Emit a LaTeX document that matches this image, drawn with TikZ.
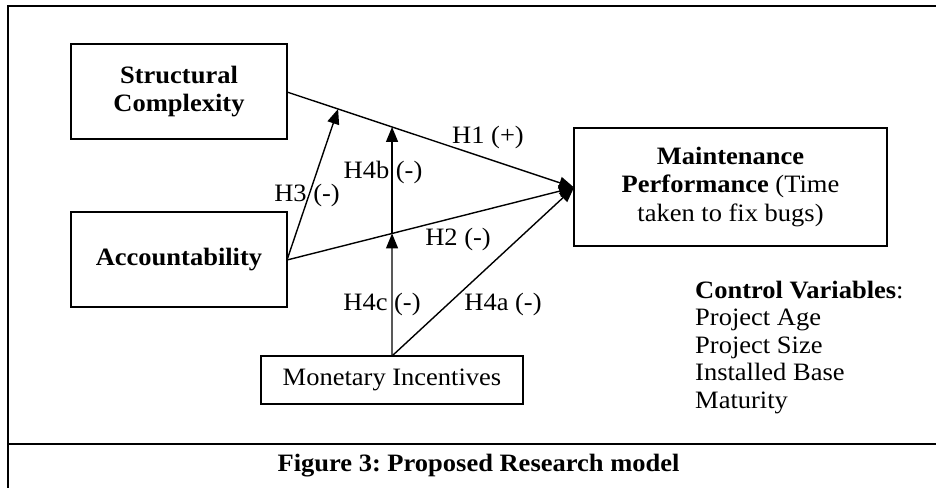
\documentclass[tikz,border=0pt]{standalone}
\usepackage{fontspec}
\setmainfont{Liberation Serif}[FakeStretch=1.06]
\usetikzlibrary{arrows.meta,calc}
\frenchspacing
\begin{document}
\begin{tikzpicture}[x=1pt,y=-1pt,
  every node/.style={font=\fontsize{25}{28.5}\selectfont},
  box/.style={draw,line width=1.6pt,inner sep=0pt,align=center},
  conn/.style={line width=1.4pt},
  arr/.style={conn,-{Triangle[length=15pt,width=12pt]}},
  lbl/.style={inner sep=0pt,anchor=base}]
\useasboundingbox (0,0) rectangle (936,488);
% frame
\draw[line width=2pt] (936,5.5) -- (8,5.5) -- (8,488);
\draw[line width=2pt] (8,444) -- (936,444);
% boxes
\node[box,minimum width=216,minimum height=95] (sc) at (179,91.5) {\textbf{Structural}\\\textbf{Complexity}};
\node[box,minimum width=216,minimum height=95] (acc) at (179,259.5) {\textbf{Accountability}};
\node[box,minimum width=313,minimum height=118] (mp) at (730.5,187) {\textbf{Maintenance}\\\textbf{Performance} (Time\\taken to fix bugs)};
\node[box,minimum width=262,minimum height=48] (mi) at (392,380) {Monetary Incentives};
% connectors
\coordinate (scR) at (287,92);
\coordinate (accR) at (287,260);
\coordinate (mpL) at (574,187.5);
\coordinate (mitop) at (392,356);
\draw[arr] (scR) -- (mpL);
\draw[arr] (accR) -- (mpL);
\draw[arr] (mitop) -- (mpL);
\coordinate (h3end) at ($(scR)!0.178!(mpL)$);
\coordinate (h1pt) at ($(scR)!0.366!(mpL)$);
\coordinate (h2pt) at ($(accR)!0.366!(mpL)$);
\draw[arr] (accR) -- (h3end);
\draw[arr] (h2pt) -- (h1pt);
\draw[arr] (mitop) -- (h2pt);
% labels
\node[lbl] (l1) at (488,143) {H1 (+)};
\node[lbl] (l2) at (458,245) {H2 (-)};
\node[lbl] (l3) at (307,201) {H3 (-)};
\node[lbl] (l4b) at (383,178) {H4b (-)};
\node[lbl] (l4c) at (382,310) {H4c (-)};
\node[lbl] (l4a) at (503,310) {H4a (-)};
% control variables
\node[lbl,anchor=base west] (cv0) at (695,298) {\textbf{Control Variables}:};
\node[lbl,anchor=base west] (cv1) at (695,325.5) {Project Age};
\node[lbl,anchor=base west] (cv2) at (695,353) {Project Size};
\node[lbl,anchor=base west] (cv3) at (695,380.5) {Installed Base};
\node[lbl,anchor=base west] (cv4) at (695,408) {Maturity};
% caption
\node[lbl] (cap) at (478.5,471) {\textbf{Figure 3: Proposed Research model}};
\end{tikzpicture}
\end{document}
